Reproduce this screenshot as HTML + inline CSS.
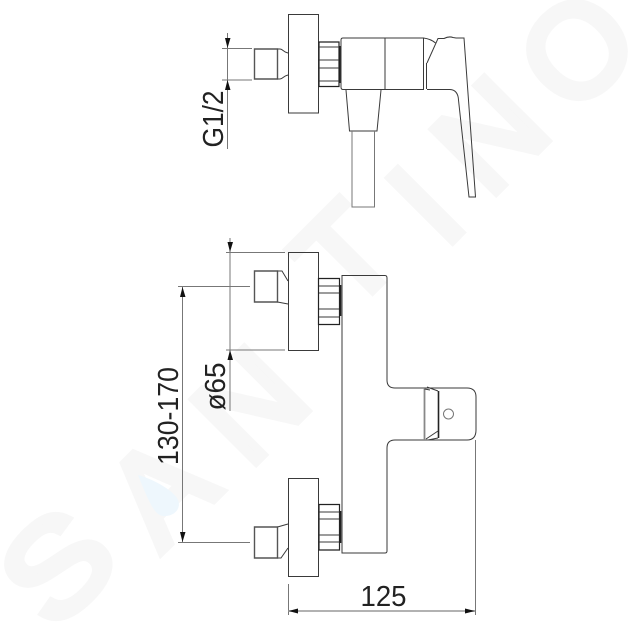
<!DOCTYPE html>
<html><head><meta charset="utf-8"><style>
html,body{margin:0;padding:0;background:#fff;width:630px;height:630px;overflow:hidden}
svg{display:block}
text{font-family:"Liberation Sans",sans-serif}
.wm text{fill:#f7f7f7;stroke:#f7f7f7;stroke-width:8;font-size:130px;text-anchor:middle;dominant-baseline:central}
.d{fill:none;stroke:#3a3a3a;stroke-width:1}
.g{fill:none;stroke:#777;stroke-width:1}
.t{fill:none;stroke:#222;stroke-width:1.2}
.n{fill:none;stroke:#555;stroke-width:1.4}
.a{fill:#111;stroke:none}
.l{fill:#222;font-size:29px}
</style></head><body>
<svg width="630" height="630" viewBox="0 0 630 630" xmlns="http://www.w3.org/2000/svg">
<g class="wm">
<text transform="translate(57,566) rotate(-45) scale(1.15,1)">S</text>
<text transform="translate(160,490) rotate(-45)">A</text>
<text transform="translate(250,405) rotate(-45)">N</text>
<text transform="translate(345,255) rotate(-45)">T</text>
<text transform="translate(425,205) rotate(-45)">I</text>
<text transform="translate(490,135) rotate(-45)">N</text>
<text transform="translate(577,50) rotate(-45)">O</text>
</g>
<path d="M138 475 C150 478 170 488 177 498 C183 508 174 517 163 516 C155 515 150 505 138 475Z" fill="#eef7fd"/>

<!-- TOP VIEW -->
<rect class="d" x="288.5" y="14.5" width="30" height="98.5"/>
<path class="n" d="M254.5 49H277.5V79H254.5Z"/>
<path class="d" d="M277.5 49H280C283 49 283 52 288 53M277.5 79H280C283 79 283 76 288 75"/>
<path class="t" d="M319 42H339V86.5H319Z"/>
<path class="d" d="M319 47H339M319 60H339M319 68H339M319 81H339"/>
<path d="M340 46V83" stroke="#222" stroke-width="2"/>
<path class="d" d="M343 38H423.5V89.5H343Q341 89.5 341 87V40Q341 38 343 38Z"/>
<path class="d" d="M385 38V89.5M423.5 38V89.5M426.5 63V89M423.5 38Q431 39 435.5 43"/>
<path class="d" d="M346 90L349.5 131H377L381 90"/>
<path class="g" d="M352 131V207H374.5V131"/>
<path class="d" d="M427 63L438 38.5H444Q449 36 453 37.500L456 38H464L475.500 197H469L458.500 100Q458 90 450 89.500H427"/>

<!-- FRONT TOP -->
<rect class="d" x="288.5" y="252.5" width="30" height="98"/>
<path class="n" d="M254.5 271H277.5V302H254.5Z"/>
<path class="d" d="M277.5 271H282L288 281M277.5 302L288 304"/>
<path class="t" d="M318.5 278.5H339.5V324.5H318.5Z"/>
<path class="d" d="M319 286H339M319 293H339M319 309H339M319 317H339"/>
<path d="M340.5 285V316" stroke="#222" stroke-width="1.6"/>

<!-- FRONT BOTTOM -->
<rect class="d" x="288.5" y="478.5" width="30" height="98"/>
<path class="n" d="M254.5 527H277.5V558H254.5Z"/>
<path class="d" d="M277.5 527L288 524M277.5 558H281L288 548"/>
<path class="t" d="M319 504.5H339.5V550H319Z"/>
<path class="d" d="M319 512H339M319 519H339M319 535H339M319 542H339"/>
<path d="M340.5 511V543" stroke="#222" stroke-width="1.6"/>

<!-- BODY -->
<path class="d" d="M341.5 275.5H385Q387 275.5 387 278V380Q387 388 395 388H467Q476 388 476 397V430Q476 440 467 440H395Q387 440 387 448V551Q387 553 385 553H342V275.5"/>
<path d="M424.500 388V440" stroke="#888" stroke-width="1.8" fill="none"/>
<path d="M438.500 391V438" stroke="#222" stroke-width="1.6" fill="none"/>
<path class="d" d="M427 387L438 391M424.500 389L430 390M438 438L428 440M438 431L426 439"/>
<circle class="g" cx="448.500" cy="414" r="5"/>

<!-- DIM G1/2 -->
<path class="g" d="M227.5 33V149M222 48.500H252M222 80H252"/>
<path class="a" d="M225 38H230.500L227.500 48ZM225 90H230.500L227.500 80Z"/>
<text class="l" transform="translate(223,147.500) rotate(-90)" textLength="57" lengthAdjust="spacingAndGlyphs">G1/2</text>

<!-- DIM 65 -->
<path class="g" d="M230 238V411M226 252.500H285M226 350H285"/>
<path class="a" d="M227.500 242H233L230 252ZM227.500 360H233L230 350Z"/>
<text class="l" transform="translate(225,410.500) rotate(-90)" textLength="48" lengthAdjust="spacingAndGlyphs">ø65</text>

<!-- DIM 130-170 -->
<path class="g" d="M182.500 287V542M178 286.500H250M178 542.500H250"/>
<path class="a" d="M180 297H185.500L182.500 287ZM180 532H185.500L182.500 542Z"/>
<text class="l" transform="translate(178,465) rotate(-90)" textLength="98" lengthAdjust="spacingAndGlyphs">130-170</text>

<!-- DIM 125 -->
<path class="g" d="M288.500 584V615M475.500 440V615"/>
<path d="M288 611H475" stroke="#999" stroke-width="1.4"/>
<path class="a" d="M288.500 611L298 608.500V613.500ZM475 611L465 608.500V613.500Z"/>
<text class="l" x="360.500" y="606" textLength="46" lengthAdjust="spacingAndGlyphs">125</text>
</svg>
</body></html>
